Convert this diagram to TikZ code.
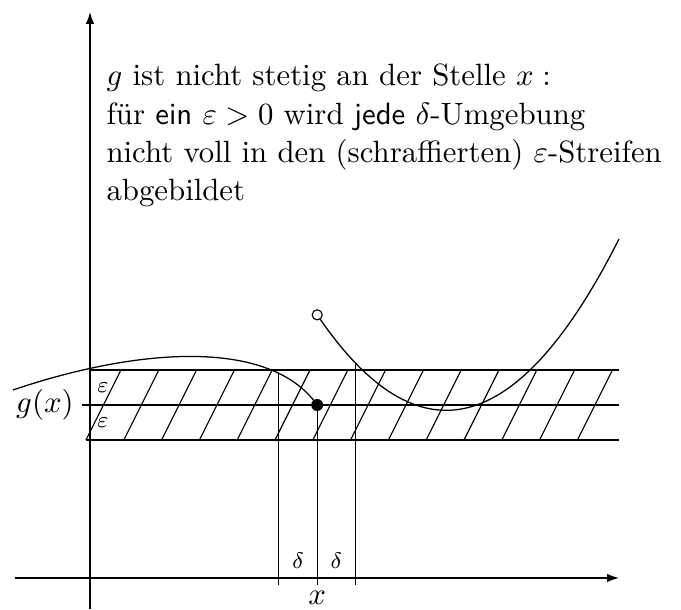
\documentclass[tikz,border=0pt,11pt]{standalone}
\usepackage{fontspec}
\usetikzlibrary{arrows.meta}
\tikzset{
      axisline/.style={-{Latex[length=4.2pt,width=3pt]}, line width=0.5pt},
      bandline/.style={line width=0.45pt},
      hatchline/.style={line width=0.4pt},
      graphline/.style={line width=0.45pt},
      smalllabel/.style={font=\scriptsize, inner sep=1pt},
      infotext/.style={align=left, anchor=north west, inner sep=0pt}
    }

\begin{document}
\begin{tikzpicture}[x=1cm,y=1cm]
    \useasboundingbox (-1.125,-0.4) rectangle (7.3875,7.225);
    \coordinate (O) at (0,0);
    \coordinate (tick) at (0,-0.09);
    \coordinate (start) at (-0.9625,2.35);
    \coordinate (jump) at (2.84,2.1625);
    \coordinate (hole) at (2.84,3.2895);
    \coordinate (dr) at (3.32,2.6847);
    \draw[axisline] (-0.94,0) -- (6.6125,0);
    \draw[axisline] (0,-0.39) -- (0,7.075);
    \draw[bandline] (0,2.6) -- (6.6125,2.6);
    \draw[bandline] (-0.1,2.1625) -- (6.6125,2.1625);
    \draw[bandline] (-0.05,1.725) -- (6.6125,1.725);
    \foreach \k in {0,...,13}
      \draw[hatchline] ({-0.05+0.4725*\k},1.725) -- ++(0.4375,0.875);
    \draw[graphline] (start) .. controls (0.6,2.88) and (2.25,3.0) .. coordinate[pos=0.797] (dl) (jump);
    \draw[graphline] plot[domain=2.84:6.6125, samples=80] (\x, {2.096+0.459*(\x-4.4525)*(\x-4.4525)});
    \draw[bandline] (dl) -- (dl |- tick);
    \draw[bandline] (jump) -- (jump |- tick);
    \draw[bandline] (dr) -- (dr |- tick);
    \fill (jump) circle (0.075);
    \draw[fill=white] (hole) circle (0.063);
    \node[anchor=east] (gx) at (-0.07,2.1625) {$g(x)$};
    \node[smalllabel] (epsup) at (0.16,2.375) {$\varepsilon$};
    \node[smalllabel] (epsdown) at (0.16,1.94) {$\varepsilon$};
    \node[smalllabel] (deltaleft) at (2.6,0.22) {$\delta$};
    \node[smalllabel] (deltaright) at (3.08,0.22) {$\delta$};
    \node (xlabel) at (2.84,-0.25) {$x$};
    \node[infotext] (info) at (0.2,6.43) {$g$ ist nicht stetig an der Stelle $x:$\\
      für \textsf{ein} $\varepsilon>0$ wird \textsf{jede} $\delta$-Umgebung\\
      nicht voll in den (schraffierten) $\varepsilon$-Streifen\\
      abgebildet};
    \end{tikzpicture}
\end{document}
